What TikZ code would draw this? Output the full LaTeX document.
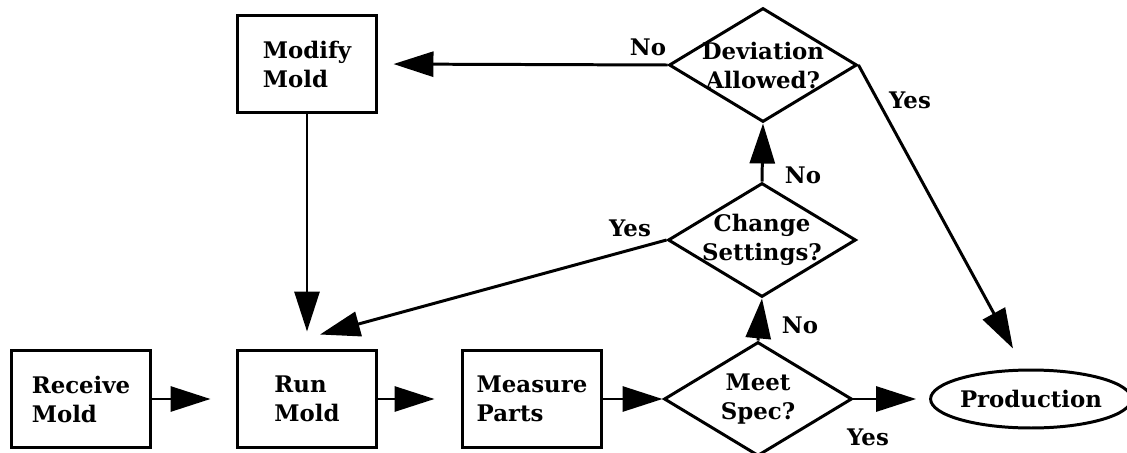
\documentclass[tikz,border=0pt]{standalone}
\usepackage{fontspec}
\setmainfont{DejaVu Serif}
\usetikzlibrary{arrows.meta,shapes.geometric}

\begin{document}
\begin{tikzpicture}[x=0.02cm,y=-0.02cm,line join=miter,font=\bfseries\fontsize{13}{16.5}\selectfont]
  \tikzset{stepbox/.style={draw,line width=1.7pt,minimum width=2.8cm,minimum height=1.96cm,align=left,inner sep=2pt},
    decision/.style={draw,diamond,line width=1.7pt,shape aspect=1.65,minimum width=3.76cm,minimum height=2.28cm,inner sep=-10pt,align=center},
    terminal/.style={draw,ellipse,line width=1.7pt,minimum width=3.76cm,minimum height=1.16cm,inner sep=0pt},
    flow/.style={line width=1.7pt,-{Triangle[length=0.8cm,width=0.5cm]}},
    lbl/.style={inner sep=1pt}}

  \useasboundingbox (0,0) rectangle (1127,453);

  % process steps
  \node[stepbox] (receive) at (81,399) {Receive\\Mold};
  \node[stepbox] (run) at (307,399) {Run\\Mold};
  \node[stepbox] (measure) at (532,399) {Measure\\Parts};
  \node[stepbox] (modify) at (307,64) {Modify\\Mold};

  % decisions
  \node[decision] (meet) at (758,399) {Meet\\Spec?};
  \node[decision] (change) at (762,240) {Change\\Settings?};
  \node[decision] (deviation) at (763,65) {Deviation\\Allowed?};

  \node[terminal] (production) at (1031,399) {Production};

  % connectors
  \draw[flow,shorten >=0.5cm] (receive.east) -- (run.west);
  \draw[flow,shorten >=0.52cm] (run.east) -- (measure.west);
  \draw[flow] (measure.east) -- (meet.west);
  \draw[flow,shorten >=0.26cm] (meet.east) -- (production.west);
  \draw[flow] (meet.north) -- (change.south);
  \draw[flow] (change.north) -- (deviation.south);
  \draw[flow,shorten >=0.3cm] (deviation.west) -- (modify.east);
  \draw[flow,shorten >=0.34cm] (modify.south) -- (run.north);
  \draw[flow] (change.west) -- ([xshift=0.26cm,yshift=0.28cm]run.north);
  \draw[flow] (deviation.east) -- ([xshift=-0.36cm,yshift=0.4cm]production.north);

  % answers
  \node[lbl] (devno) at (648,47) {No};
  \node[lbl] (devyes) at (910,100) {Yes};
  \node[lbl] (chgno) at (803,175) {No};
  \node[lbl] (chgyes) at (630,228) {Yes};
  \node[lbl] (meetno) at (800,325) {No};
  \node[lbl] (meetyes) at (868,437) {Yes};
\end{tikzpicture}
\end{document}
